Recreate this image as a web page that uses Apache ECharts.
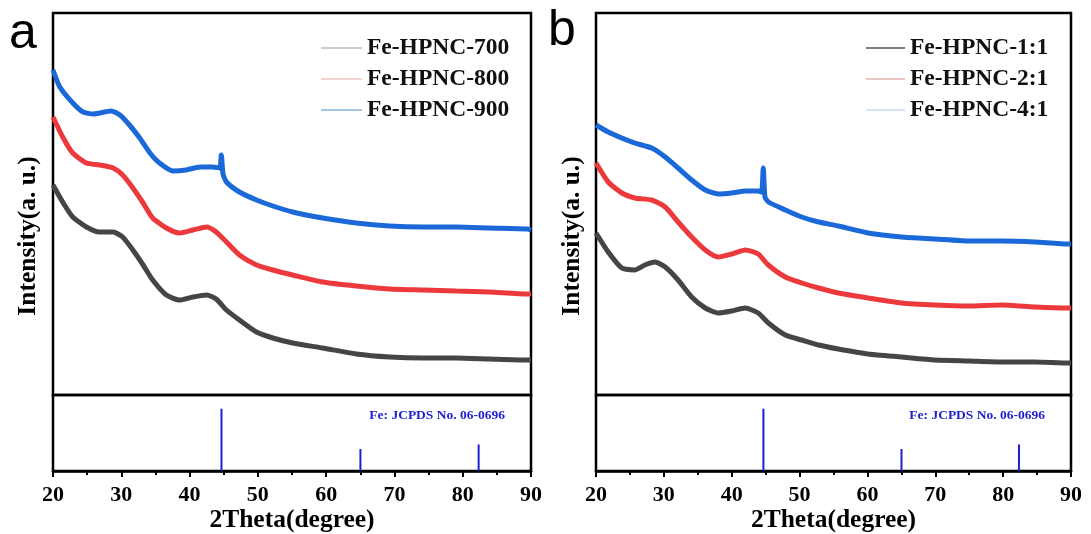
<!DOCTYPE html>
<html>
<head>
<meta charset="utf-8">
<script src="https://cdn.jsdelivr.net/npm/echarts@6/dist/echarts.min.js"></script>
<style>
html,body{margin:0;padding:0;background:#fff;}
#c{width:1091px;height:534px;}
</style>
</head>
<body>
<div id="c"></div>
<script>
// ---- Data (2Theta in degrees, intensity in arbitrary units) ----
var xTicks = [20, 30, 40, 50, 60, 70, 80, 90];

var a700 = [[20,210],[21.5,192],[22.9,178],[24.9,168],[26.8,163],[28.8,163],[30.2,158],[31.7,145],[33.2,130],[34.6,115],[36.6,100],[38.5,95],[40.5,98],[42.5,100],[43.9,96],[45.4,85],[47.3,75],[49.8,63],[52.2,57],[55.1,52],[59.5,47],[64.4,41],[69.3,38],[74.2,37],[79.1,37],[83.9,36],[89.5,35],[90,35]];
var a800 = [[20,278],[21.5,257],[22.9,242],[24.9,232],[26.8,230],[28.8,227],[30.2,220],[31.7,207],[33.2,192],[34.6,177],[36.6,167],[38.5,162],[40.5,165],[42.5,168],[43.9,163],[45.4,153],[47.3,140],[49.8,130],[52.2,125],[55.1,120],[59.5,113],[64.4,109],[69.3,106],[74.2,105],[79.1,104],[83.9,103],[89.5,101],[90,101]];
var a900 = [[20,325],[21,308],[22.9,292],[24.4,283],[25.9,281],[28.5,284],[29.8,280],[31.2,270],[32.7,257],[34.2,242],[35.6,232],[37.6,224],[39.5,225],[41.5,228],[43.4,228],[44.4,227],[44.65,240],[44.9,221],[45.4,213],[47.3,203],[49.8,195],[52.2,189],[55.1,183],[59.5,177],[64.4,172],[69.3,169],[74.2,168],[79.1,168],[83.9,167],[89.5,166],[90,165]];

var b11 = [[20,162],[21.8,143],[23.8,127],[25.7,125],[27.2,130],[28.7,133],[30.2,128],[32.1,115],[34.1,98],[36.1,87],[38.0,82],[40.0,84],[42.0,87],[43.9,82],[45.4,72],[47.9,60],[50.3,55],[52.8,50],[55.7,46],[60.1,41],[65.0,38],[70.0,35],[74.9,34],[79.8,33],[84.7,33],[89.6,32],[90,32]];
var b21 = [[20,232],[21.8,213],[23.8,202],[25.7,197],[28.2,195],[30.2,188],[32.1,173],[34.1,158],[36.1,145],[38.0,138],[40.0,141],[42.0,145],[43.9,141],[45.4,130],[47.9,118],[50.3,112],[52.8,107],[55.7,102],[60.1,97],[65.0,92],[70.0,90],[74.9,89],[79.8,90],[84.7,88],[89.6,87],[90,87]];
var b41 = [[20,270],[21.8,263],[23.8,257],[25.7,252],[28.2,247],[30.2,238],[32.1,227],[34.1,215],[36.1,205],[38.0,201],[40.0,202],[42.0,204],[43.9,204],[44.4,203],[44.65,227],[44.9,198],[45.4,193],[47.9,185],[50.3,178],[52.8,173],[55.7,169],[60.1,162],[65.0,158],[70.0,156],[74.9,154],[79.8,154],[84.7,153],[89.6,151],[90,151]];

var fePeaks = [[44.67, 82], [65.02, 29], [82.33, 35]];

var namesA = ['Fe-HPNC-700', 'Fe-HPNC-800', 'Fe-HPNC-900'];
var namesB = ['Fe-HPNC-1:1', 'Fe-HPNC-2:1', 'Fe-HPNC-4:1'];
var refLabel = 'Fe: JCPDS No. 06-0696';
var yTitle = 'Intensity(a. u.)';
var xTitle = '2Theta(degree)';

// ---- Styling ----
var SERIF = '"Liberation Serif","Times New Roman",serif';
var cBlack = '#454545', cRed = '#ec3a3c', cBlue = '#1b69d9', cRef = '#1e1ed2';

function grid(left, top, width, height) {
  return {left: left, top: top, width: width, height: height, show: true,
          borderColor: '#000', borderWidth: 2.5, backgroundColor: 'transparent'};
}
function topX(gi) {
  return {type: 'value', gridIndex: gi, min: 20, max: 90, interval: 10,
          axisLine: {show: false}, axisTick: {show: false}, axisLabel: {show: false}, splitLine: {show: false}};
}
function botX(gi) {
  return {type: 'value', gridIndex: gi, min: 20, max: 90, interval: 10,
          name: xTitle, nameLocation: 'middle', nameGap: 30,
          nameTextStyle: {fontFamily: SERIF, fontWeight: 'bold', fontSize: 25.5, color: '#000'},
          axisLine: {show: true, onZero: false, lineStyle: {color: '#000', width: 2.5}},
          axisTick: {show: true, inside: false, length: 6, lineStyle: {color: '#000', width: 2}},
          minorTick: {show: true, splitNumber: 2, length: 4, lineStyle: {color: '#000', width: 2}},
          axisLabel: {show: true, margin: 13, fontFamily: SERIF, fontWeight: 'bold', fontSize: 22, color: '#000',
                      showMinLabel: true, showMaxLabel: true},
          splitLine: {show: false}};
}
function yAx(gi, max) {
  return {type: 'value', gridIndex: gi, min: 0, max: max, show: false, splitLine: {show: false}};
}
function lineSeries(name, data, color, idx) {
  return {type: 'line', name: name, data: data, xAxisIndex: idx, yAxisIndex: idx,
          showSymbol: false, symbol: 'none', smooth: 0.2, silent: true,
          lineStyle: {color: color, width: 5}, itemStyle: {color: color}};
}
function refSeries(idx) {
  return {type: 'bar', data: fePeaks, xAxisIndex: idx, yAxisIndex: idx, barWidth: 2,
          itemStyle: {color: cRef}, silent: true};
}
function legend(left, itemWidth, names, iconColors) {
  return {orient: 'vertical', left: left, top: 31, itemWidth: itemWidth, itemHeight: 1.5, itemGap: 7,
          icon: 'rect', selectedMode: false,
          textStyle: {fontFamily: SERIF, fontWeight: 'bold', fontSize: 23.5, color: '#111', lineHeight: 23},
          data: names.map(function (n, i) { return {name: n, itemStyle: {color: iconColors[i]}}; })};
}

var option = {
  backgroundColor: '#fff',
  animation: false,
  grid: [grid(53, 13, 478, 382), grid(53, 395, 478, 77), grid(596, 13, 475, 382), grid(596, 395, 475, 77)],
  xAxis: [topX(0), botX(1), topX(2), botX(3)],
  yAxis: [yAx(0, 382), yAx(1, 100), yAx(2, 382), yAx(3, 100)],
  legend: [legend(316, 41, namesA, ['#bdbdbd', '#f0c4c4', '#8fb2dc']),
           legend(861, 39, namesB, ['#555555', '#e8b2b2', '#c9dbee'])],
  series: [
    lineSeries(namesA[0], a700, cBlack, 0),
    lineSeries(namesA[1], a800, cRed, 0),
    lineSeries(namesA[2], a900, cBlue, 0),
    refSeries(1),
    lineSeries(namesB[0], b11, cBlack, 2),
    lineSeries(namesB[1], b21, cRed, 2),
    lineSeries(namesB[2], b41, cBlue, 2),
    refSeries(3)
  ],
  graphic: [
    {type: 'text', left: 9, top: 9, style: {text: 'a', font: '50px "Liberation Sans", Arial, sans-serif', fill: '#000'}},
    {type: 'text', left: 548, top: 6, style: {text: 'b', font: '50px "Liberation Sans", Arial, sans-serif', fill: '#000'}},
    {type: 'text', x: 28, y: 236, rotation: Math.PI / 2,
     style: {text: yTitle, font: 'bold 25.5px ' + SERIF, fill: '#000', textAlign: 'center', textVerticalAlign: 'middle'}},
    {type: 'text', x: 572, y: 236, rotation: Math.PI / 2,
     style: {text: yTitle, font: 'bold 25.5px ' + SERIF, fill: '#000', textAlign: 'center', textVerticalAlign: 'middle'}},
    {type: 'text', x: 505, y: 416,
     style: {text: refLabel, font: 'bold 13.5px ' + SERIF, fill: cRef, textAlign: 'right', textVerticalAlign: 'middle'}},
    {type: 'text', x: 1045, y: 416,
     style: {text: refLabel, font: 'bold 13.5px ' + SERIF, fill: cRef, textAlign: 'right', textVerticalAlign: 'middle'}}
  ]
};

var chart = echarts.init(document.getElementById('c'), null, {renderer: 'canvas'});
chart.setOption(option);
</script>
</body>
</html>
